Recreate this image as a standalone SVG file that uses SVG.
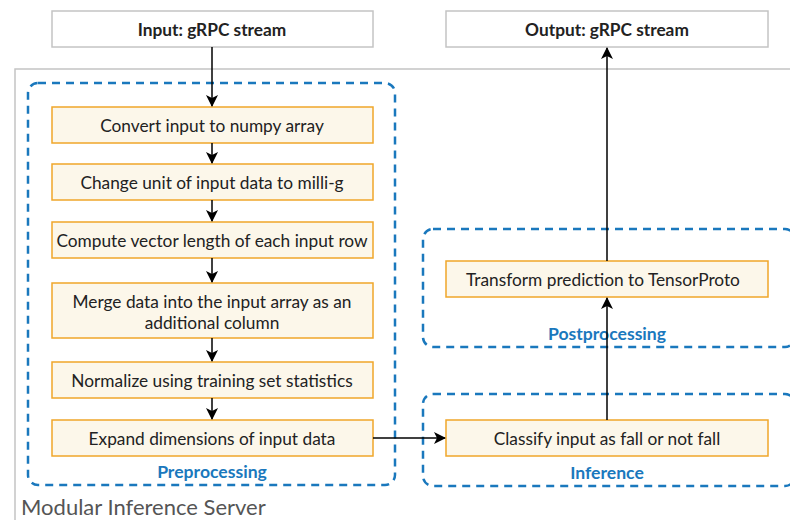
<svg xmlns="http://www.w3.org/2000/svg" width="790" height="520" viewBox="0 0 790 520">
  <defs>
    <style>
      .io { fill: #ffffff; stroke: #c4c4c4; stroke-width: 1.5; }
      .step { fill: #fcf7ea; stroke: #f0a62a; stroke-width: 1.5; }
      .group { fill: none; stroke: #1a78bd; stroke-width: 2.5; stroke-dasharray: 8 6; }
      .t { font-family: Lato, "Liberation Sans", sans-serif; font-size: 17.3px; fill: #222222; text-anchor: middle; dominant-baseline: central; }
      .tb { font-weight: bold; }
      .gl { font-family: Lato, "Liberation Sans", sans-serif; font-size: 17.6px; font-weight: bold; fill: #1a78bd; text-anchor: middle; dominant-baseline: central; }
      .edge { fill: none; stroke: #000000; stroke-width: 1.5; }
    </style>
    <marker id="arrow" viewBox="0 0 12 12" refX="11" refY="6" markerWidth="12" markerHeight="12" markerUnits="userSpaceOnUse" orient="auto">
      <path d="M0,0 L12,6 L0,12 L3,6 Z" fill="#000000"/>
    </marker>
  </defs>

  <!-- server container -->
  <g id="server">
    <path d="M15,530 L15,69 L800,69" fill="none" stroke="#c4c4c4" stroke-width="1.5"/>
    <text x="21" y="515" font-family="Lato, 'Liberation Sans', sans-serif" font-size="22" fill="#555555">Modular Inference Server</text>
  </g>

  <!-- stage groups -->
  <g id="preprocessing">
    <rect class="group" x="28" y="83" width="367" height="402" rx="10"/>
    <text class="gl" x="212" y="471">Preprocessing</text>
  </g>
  <g id="postprocessing">
    <rect class="group" x="423" y="229" width="372" height="118" rx="10"/>
    <text class="gl" x="607" y="333">Postprocessing</text>
  </g>
  <g id="inference">
    <rect class="group" x="423" y="394" width="372" height="92" rx="10"/>
    <text class="gl" x="607" y="472">Inference</text>
  </g>

  <!-- input / output -->
  <g id="input">
    <rect class="io" x="52" y="11" width="321" height="36"/>
    <text class="t tb" x="212" y="29">Input: gRPC stream</text>
  </g>
  <g id="output">
    <rect class="io" x="446" y="11" width="322" height="36"/>
    <text class="t tb" x="607" y="29">Output: gRPC stream</text>
  </g>

  <!-- preprocessing steps -->
  <g id="convert">
    <rect class="step" x="52" y="107" width="321" height="36"/>
    <text class="t" x="212" y="125">Convert input to numpy array</text>
  </g>
  <g id="unit">
    <rect class="step" x="52" y="164" width="321" height="36"/>
    <text class="t" x="212" y="182">Change unit of input data to milli-g</text>
  </g>
  <g id="vector">
    <rect class="step" x="52" y="222" width="321" height="36"/>
    <text class="t" x="212" y="240">Compute vector length of each input row</text>
  </g>
  <g id="merge">
    <rect class="step" x="52" y="283" width="321" height="55"/>
    <text class="t" x="212" y="301">Merge data into the input array as an</text>
    <text class="t" x="212" y="322">additional column</text>
  </g>
  <g id="normalize">
    <rect class="step" x="52" y="362" width="321" height="36"/>
    <text class="t" x="212" y="380">Normalize using training set statistics</text>
  </g>
  <g id="expand">
    <rect class="step" x="52" y="420" width="321" height="36"/>
    <text class="t" x="212" y="438">Expand dimensions of input data</text>
  </g>

  <!-- inference / postprocessing steps -->
  <g id="classify">
    <rect class="step" x="446" y="420" width="322" height="36"/>
    <text class="t" x="607" y="438">Classify input as fall or not fall</text>
  </g>
  <g id="transform">
    <rect class="step" x="446" y="261" width="322" height="36"/>
    <text class="t" x="603" y="279">Transform prediction to TensorProto</text>
  </g>

  <!-- connectors -->
  <g id="connectors">
    <path class="edge" d="M212,47 L212,106" marker-end="url(#arrow)"/>
    <path class="edge" d="M212,143 L212,163" marker-end="url(#arrow)"/>
    <path class="edge" d="M212,200 L212,221" marker-end="url(#arrow)"/>
    <path class="edge" d="M212,258 L212,282" marker-end="url(#arrow)"/>
    <path class="edge" d="M212,338 L212,361" marker-end="url(#arrow)"/>
    <path class="edge" d="M212,398 L212,419" marker-end="url(#arrow)"/>
    <path class="edge" d="M373,438 L445,438" marker-end="url(#arrow)"/>
    <path class="edge" d="M607,420 L607,298" marker-end="url(#arrow)"/>
    <path class="edge" d="M607,261 L607,48" marker-end="url(#arrow)"/>
  </g>
</svg>
